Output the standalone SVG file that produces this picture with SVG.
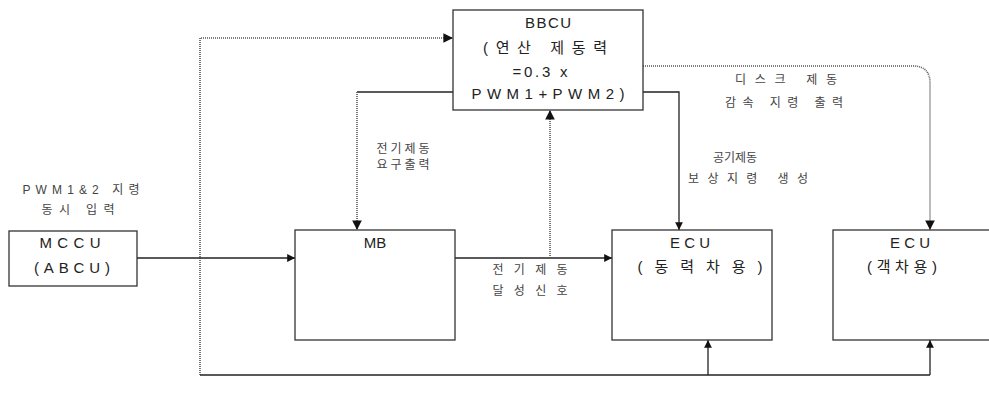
<svg xmlns="http://www.w3.org/2000/svg" width="989" height="395" viewBox="0 0 989 395">
<style>
.box{fill:#fff;stroke:#333;stroke-width:1.3}
.t{font-family:"Liberation Sans","Noto Sans CJK KR",sans-serif;font-size:15px;fill:#222;text-anchor:middle}
.k{font-family:"Liberation Sans","Noto Sans CJK KR",sans-serif;font-size:12px;fill:#444;text-anchor:middle}
.s{fill:none;stroke:#222;stroke-width:1.3}
.d{fill:none;stroke:#555;stroke-width:1.6;stroke-dasharray:1 1}
</style>
<defs>
<marker id="a" viewBox="0 0 10 10" refX="10" refY="5" markerWidth="6" markerHeight="6" orient="auto">
<path d="M0,0 L10,5 L0,10 z" fill="#111"/>
</marker>
</defs>
<rect width="989" height="395" fill="#fff"/>
<g id="connectors">
<path class="d" d="M200,375 L200,38 L453,38" marker-end="url(#a)"/>
<path class="s" d="M200,375 L930,375"/>
<path class="s" d="M708,375 L708,340" marker-end="url(#a)"/>
<path class="s" d="M930,375 L930,340" marker-end="url(#a)"/>
<path class="s" d="M137,258 L295,258" marker-end="url(#a)"/>
<path class="s" d="M455,258 L612,258" marker-end="url(#a)"/>
<path class="d" d="M550,258 L550,110" marker-end="url(#a)"/>
<path class="s" d="M453,92 L357,92"/>
<path class="d" d="M357,92 L357,230" marker-end="url(#a)"/>
<path class="s" d="M643,92 L679,92 L679,230" marker-end="url(#a)"/>
<path class="d" d="M643,66 L913,66 Q930,66 930,83 L930,230" marker-end="url(#a)"/>
</g>
<g id="bbcu">
<rect class="box" x="453" y="10" width="190" height="100"/>
<text class="t" x="548" y="28" textLength="46">BBCU</text>
<text class="t" x="545" y="53" textLength="124">(연산 제동력</text>
<text class="t" x="540" y="77" textLength="55">=0.3 x</text>
<text class="t" x="548" y="99" textLength="153">PWM1+PWM2)</text>
</g>
<g id="mccu">
<rect class="box" x="9" y="231" width="128" height="55"/>
<text class="t" x="70" y="248" textLength="61">MCCU</text>
<text class="t" x="72" y="273" textLength="76">(ABCU)</text>
</g>
<g id="mb">
<rect class="box" x="295" y="230" width="160" height="110"/>
<text class="t" x="375" y="248">MB</text>
</g>
<g id="ecu1">
<rect class="box" x="612" y="230" width="160" height="110"/>
<text class="t" x="690" y="248" textLength="40">ECU</text>
<text class="t" x="700" y="272" textLength="125">(동력차용)</text>
</g>
<g id="ecu2">
<rect class="box" x="833" y="230" width="160" height="110"/>
<text class="t" x="910" y="248" textLength="40">ECU</text>
<text class="t" x="902" y="272" textLength="70">(객차용)</text>
</g>
<g id="labels">
<text class="k" x="81" y="194" textLength="117">PWM1&amp;2 지령</text>
<text class="k" x="78" y="214" textLength="73">동시 입력</text>
<text class="k" x="403" y="153" textLength="53">전기제동</text>
<text class="k" x="403" y="169" textLength="53">요구출력</text>
<text class="k" x="530" y="274" textLength="75">전기제동</text>
<text class="k" x="530" y="295" textLength="75">달성신호</text>
<text class="k" x="735" y="162" textLength="44">공기제동</text>
<text class="k" x="748" y="183" textLength="120">보상지령 생성</text>
<text class="k" x="786" y="84" textLength="102">디스크 제동</text>
<text class="k" x="784" y="107" textLength="118">감속 지령 출력</text>
</g>
</svg>
